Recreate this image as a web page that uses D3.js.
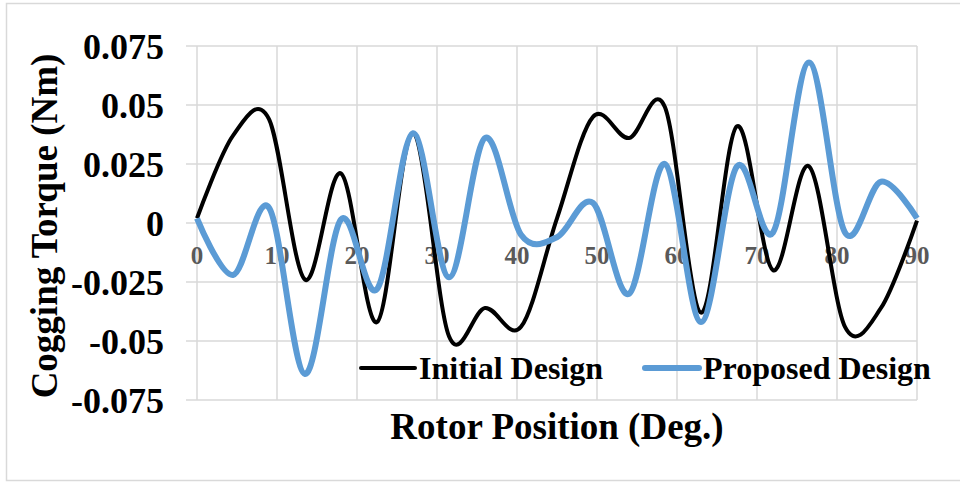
<!DOCTYPE html>
<html>
<head>
<meta charset="utf-8">
<script src="https://cdn.jsdelivr.net/npm/d3@7"></script>
<style>
  body { margin: 0; background: #fff; }
  svg text { font-family: "Liberation Serif", "Times New Roman", serif; font-weight: bold; }
</style>
</head>
<body>
<script>
// rotor positions (deg), sampled every 4.5 deg
var positions = [0, 4.5, 9, 13.5, 18, 22.5, 27, 31.5, 36, 40.5, 45,
                 49.5, 54, 58.5, 63, 67.5, 72, 76.5, 81, 85.5, 90];

// cogging torque (Nm)
var initialDesign = [0.002, 0.037, 0.044, -0.024, 0.021, -0.042, 0.038, -0.048, -0.036, -0.044, 0.002,
                     0.045, 0.036, 0.049, -0.038, 0.041, -0.020, 0.024, -0.044, -0.036, 0.001];
var proposedDesign = [0.002, -0.022, 0.0065, -0.064, 0.0015, -0.028, 0.038, -0.023, 0.036, -0.005, -0.006,
                      0.0085, -0.030, 0.025, -0.042, 0.024, -0.004, 0.068, -0.004, 0.0175, 0.002];

var xTicks = [0, 10, 20, 30, 40, 50, 60, 70, 80, 90];
var yTicks = [-0.075, -0.05, -0.025, 0, 0.025, 0.05, 0.075];
var yTickLabels = ["-0.075", "-0.05", "-0.025", "0", "0.025", "0.05", "0.075"];

var seriesNames = ["Initial Design", "Proposed Design"];
var seriesColors = ["#000000", "#5b9bd5"];

var width = 960,
    height = 482;

var svg = d3.select("body")
    .append("svg")
    .attr("width", width)
    .attr("height", height);

// outer frame
svg.append("rect")
    .attr("x", 6.5).attr("y", 3.5)
    .attr("width", 990).attr("height", 477)
    .attr("fill", "none")
    .attr("stroke", "#d9d9d9")
    .attr("stroke-width", 1.5);

var x = d3.scaleLinear().domain([0, 90]).range([197, 917]);
var y = d3.scaleLinear().domain([-0.075, 0.075]).range([400, 46]);

// gridlines
svg.append("g")
    .selectAll("line.h")
    .data(yTicks)
    .enter()
    .append("line")
    .attr("x1", 186).attr("x2", x(90))
    .attr("y1", function (d) { return y(d); })
    .attr("y2", function (d) { return y(d); })
    .attr("stroke", "#d9d9d9")
    .attr("stroke-width", 1.5);

svg.append("g")
    .selectAll("line.v")
    .data(xTicks)
    .enter()
    .append("line")
    .attr("x1", function (d) { return x(d); })
    .attr("x2", function (d) { return x(d); })
    .attr("y1", y(0.075)).attr("y2", y(-0.075))
    .attr("stroke", "#d9d9d9")
    .attr("stroke-width", 1.5);

// y tick labels
svg.append("g")
    .selectAll("text")
    .data(yTicks)
    .enter()
    .append("text")
    .attr("x", 164)
    .attr("y", function (d) { return y(d) + 12.5; })
    .attr("text-anchor", "end")
    .attr("font-size", "36px")
    .attr("fill", "#000")
    .text(function (d, i) { return yTickLabels[i]; });

// lines
var line = d3.line()
    .x(function (d) { return x(d[0]); })
    .y(function (d) { return y(d[1]); })
    .curve(d3.curveCardinal.tension(0));

var series = [initialDesign, proposedDesign];
var widths = [4, 6];

// x tick labels sit under the curves in the original
svg.append("g")
    .selectAll("text")
    .data(xTicks)
    .enter()
    .append("text")
    .attr("x", function (d) { return x(d); })
    .attr("y", y(0) + 41)
    .attr("text-anchor", "middle")
    .attr("font-size", "25px")
    .attr("fill", "#595959")
    .text(function (d) { return d; });

svg.append("g")
    .selectAll("path")
    .data(series)
    .enter()
    .append("path")
    .attr("d", function (vals) {
        return line(positions.map(function (p, i) { return [p, vals[i]]; }));
    })
    .attr("fill", "none")
    .attr("stroke", function (d, i) { return seriesColors[i]; })
    .attr("stroke-width", function (d, i) { return widths[i]; })
    .attr("stroke-linejoin", "round");

// axis titles
svg.append("text")
    .attr("x", 557)
    .attr("y", 439)
    .attr("text-anchor", "middle")
    .attr("font-size", "37px")
    .text("Rotor Position (Deg.)");

svg.append("text")
    .attr("transform", "translate(57,226) rotate(-90)")
    .attr("text-anchor", "middle")
    .attr("font-size", "37px")
    .text("Cogging Torque (Nm)");

// legend
var legendX = [361, 645];
var legend = svg.append("g")
    .selectAll("g")
    .data(seriesNames)
    .enter()
    .append("g")
    .attr("transform", function (d, i) { return "translate(" + legendX[i] + ",368)"; });

legend.append("line")
    .attr("x1", 0).attr("x2", 54)
    .attr("y1", 0).attr("y2", 0)
    .attr("stroke", function (d, i) { return seriesColors[i]; })
    .attr("stroke-width", function (d, i) { return widths[i]; })
    .attr("stroke-linecap", "round");

legend.append("text")
    .attr("x", 58)
    .attr("y", 10.5)
    .attr("font-size", "32px")
    .attr("fill", "#000")
    .text(function (d) { return d; });
</script>
</body>
</html>
